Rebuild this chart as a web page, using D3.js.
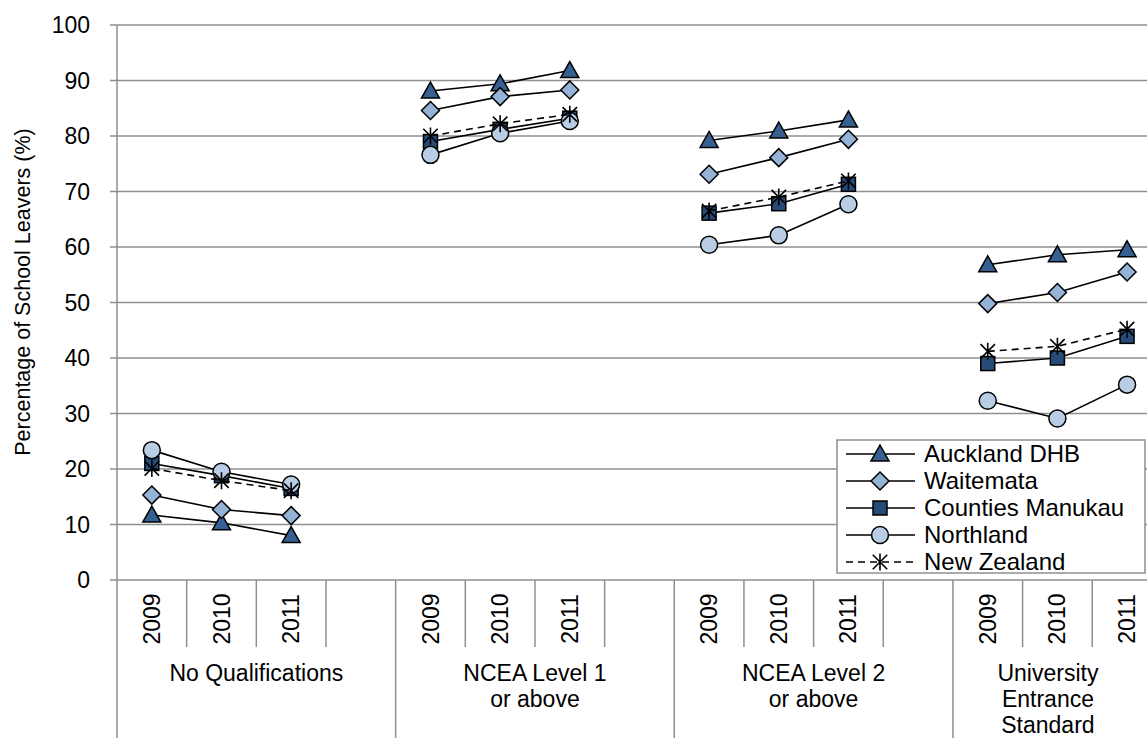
<!DOCTYPE html>
<html>
<head>
<meta charset="utf-8">
<script src="https://cdn.jsdelivr.net/npm/d3@7/dist/d3.min.js"></script>
<style>
  html, body { margin: 0; padding: 0; background: #fff; overflow: hidden; }
  svg { display: block; font-family: "Liberation Sans", Arial, sans-serif; }
</style>
</head>
<body>
<svg id="chart" width="1147" height="738"></svg>
<script>
// ---- data ----
const groupLabels = [["No Qualifications"], ["NCEA Level 1", "or above"], ["NCEA Level 2", "or above"], ["University", "Entrance", "Standard"]];
const years = ["2009", "2010", "2011"];
const yTicks = [0, 10, 20, 30, 40, 50, 60, 70, 80, 90, 100];
const seriesNames = ["Auckland DHB", "Waitemata", "Counties Manukau", "Northland", "New Zealand"];
const aucklandDHB     = [11.7, 10.3, 8.0,  88.1, 89.4, 91.8,  79.2, 80.9, 82.9,  56.8, 58.6, 59.5];
const waitemata       = [15.3, 12.7, 11.6, 84.6, 87.1, 88.3,  73.1, 76.1, 79.4,  49.8, 51.8, 55.5];
const countiesManukau = [21.0, 18.8, 16.5, 79.0, 81.2, 83.2,  66.1, 67.8, 71.3,  39.0, 40.0, 43.9];
const northland       = [23.4, 19.5, 17.2, 76.6, 80.5, 82.7,  60.4, 62.1, 67.7,  32.3, 29.1, 35.2];
const newZealand      = [20.1, 17.9, 16.1, 80.0, 82.2, 83.9,  66.5, 69.0, 71.9,  41.2, 42.1, 45.2];

const seriesValues = [aucklandDHB, waitemata, countiesManukau, northland, newZealand];
const styles = [
  { marker: "triangle", fill: "#376092", dash: null },
  { marker: "diamond",  fill: "#95B3D7", dash: null },
  { marker: "square",   fill: "#254B76", dash: null },
  { marker: "circle",   fill: "#B9CDE5", dash: null },
  { marker: "star",     fill: "none",    dash: "7,5" }
];

// ---- layout ----
const W = 1147, H = 738;
const plotLeft = 117, plotTop = 25, plotBottom = 580;
const slotW = 69.66;
const gridColor = "#8f8f8f";

const svg = d3.select("#chart");
svg.append("rect").attr("width", W).attr("height", H).attr("fill", "#fff");

const slots = [];
groupLabels.forEach((g, gi) => { for (let s = 0; s < 4; s++) slots.push(gi + "-" + s); });
const x = d3.scaleBand().domain(slots).range([plotLeft, plotLeft + slots.length * slotW]).padding(0);
const y = d3.scaleLinear().domain([0, 100]).range([plotBottom, plotTop]);

// gridlines
svg.append("g").selectAll("line").data(yTicks.filter(d => d > 0)).join("line")
  .attr("x1", plotLeft - 7).attr("x2", W).attr("y1", d => y(d)).attr("y2", d => y(d))
  .attr("stroke", gridColor).attr("stroke-width", 1.5);

// y axis
svg.append("line").attr("x1", plotLeft).attr("x2", plotLeft).attr("y1", y(100)).attr("y2", H)
  .attr("stroke", gridColor).attr("stroke-width", 1.5);
// x axis
svg.append("line").attr("x1", plotLeft - 7).attr("x2", W).attr("y1", y(0)).attr("y2", y(0))
  .attr("stroke", gridColor).attr("stroke-width", 1.5);

// y tick labels
svg.append("g").selectAll("text").data(yTicks).join("text")
  .attr("x", 90).attr("y", d => y(d)).attr("dy", "0.35em")
  .attr("text-anchor", "end").attr("font-size", 23).attr("fill", "#000")
  .text(d => d);

// y title
svg.append("text")
  .attr("transform", "translate(30,292) rotate(-90)")
  .attr("text-anchor", "middle").attr("font-size", 21.5).attr("fill", "#000")
  .text("Percentage of School Leavers (%)");

// slot dividers
slots.forEach((k, i) => {
  const s = i % 4;
  const xr = x(k) + x.bandwidth();
  if (xr > W + 1) return;
  const isGroupEnd = s === 3;
  svg.append("line").attr("x1", xr).attr("x2", xr)
    .attr("y1", y(0)).attr("y2", isGroupEnd ? H : 647)
    .attr("stroke", gridColor).attr("stroke-width", 1.5);
});

// year + group labels
groupLabels.forEach((g, gi) => {
  years.forEach((yr, yi) => {
    const cx = x(gi + "-" + yi) + x.bandwidth() / 2;
    svg.append("text")
      .attr("transform", `translate(${cx},619) rotate(-90)`)
      .attr("text-anchor", "middle").attr("dy", "0.35em")
      .attr("font-size", 23).attr("fill", "#000").text(yr);
  });
  const gStart = x(gi + "-0");
  const gEnd = Math.min(x(gi + "-3") + x.bandwidth(), W - 4);
  const cx = (gStart + gEnd) / 2;
  g.forEach((ln, li) => {
    svg.append("text").attr("x", cx).attr("y", 673 + li * 26).attr("dy", "0.35em")
      .attr("text-anchor", "middle").attr("font-size", 23).attr("fill", "#000").text(ln);
  });
});

// markers
function drawMarker(sel, type, fill, cx, cy) {
  if (type === "triangle") {
    sel.append("path").attr("d", `M${cx},${cy - 9}L${cx + 9},${cy + 7}L${cx - 9},${cy + 7}Z`)
      .attr("fill", fill).attr("stroke", "#000").attr("stroke-width", 1.5);
  } else if (type === "diamond") {
    sel.append("path").attr("d", `M${cx},${cy - 9}L${cx + 9},${cy}L${cx},${cy + 9}L${cx - 9},${cy}Z`)
      .attr("fill", fill).attr("stroke", "#000").attr("stroke-width", 1.5);
  } else if (type === "square") {
    sel.append("rect").attr("x", cx - 7).attr("y", cy - 7).attr("width", 14).attr("height", 14)
      .attr("fill", fill).attr("stroke", "#000").attr("stroke-width", 1.5);
  } else if (type === "circle") {
    sel.append("circle").attr("cx", cx).attr("cy", cy).attr("r", 8.5)
      .attr("fill", fill).attr("stroke", "#000").attr("stroke-width", 1.5);
  } else if (type === "star") {
    const r = 8.5, k = r * 0.85;
    sel.append("path")
      .attr("d", `M${cx},${cy - r}L${cx},${cy + r}M${cx - k},${cy - k}L${cx + k},${cy + k}M${cx + k},${cy - k}L${cx - k},${cy + k}`)
      .attr("fill", "none").attr("stroke", "#000").attr("stroke-width", 1.6);
  }
}

const lineGen = d3.line().x(d => d[0]).y(d => d[1]);
const plot = svg.append("g");
seriesValues.forEach((vals, si) => {
  const st = styles[si];
  const g = plot.append("g");
  groupLabels.forEach((gl, gi) => {
    const pts = years.map((yr, yi) => [x(gi + "-" + yi) + x.bandwidth() / 2, y(vals[gi * 3 + yi])]);
    g.append("path").attr("d", lineGen(pts)).attr("fill", "none").attr("stroke", "#000")
      .attr("stroke-width", 1.6).attr("stroke-dasharray", st.dash);
    pts.forEach(p => drawMarker(g, st.marker, st.fill, p[0], p[1]));
  });
});

// legend
const lg = svg.append("g");
lg.append("rect").attr("x", 837).attr("y", 440).attr("width", 308).attr("height", 133)
  .attr("fill", "#fff").attr("stroke", gridColor).attr("stroke-width", 1.5);
seriesNames.forEach((name, i) => {
  const cy = 454 + i * 27;
  const st = styles[i];
  lg.append("line").attr("x1", 846).attr("x2", 915).attr("y1", cy).attr("y2", cy)
    .attr("stroke", "#000").attr("stroke-width", 1.6).attr("stroke-dasharray", st.dash);
  drawMarker(lg, st.marker, st.fill, 880, cy);
  lg.append("text").attr("x", 924).attr("y", cy).attr("dy", "0.35em")
    .attr("font-size", 24).attr("fill", "#000").text(name);
});
</script>
</body>
</html>
